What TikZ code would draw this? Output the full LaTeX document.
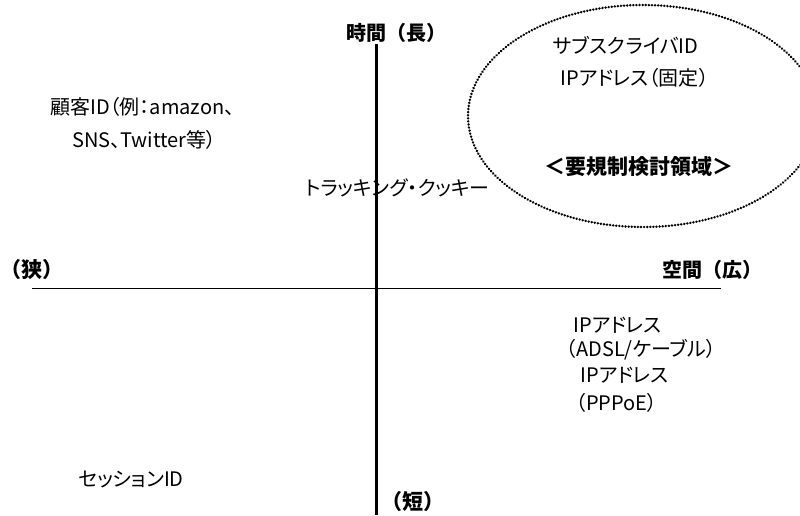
\documentclass[tikz,border=0pt]{standalone}
\usepackage{fontspec}
\setmainfont{Noto Sans CJK JP}
\newfontfamily\propjp[RawFeature=+palt]{Noto Sans CJK JP}
\begin{document}
\begin{tikzpicture}[x=1pt,y=-1pt,
  lbl/.style={anchor=west,inner sep=0pt,font=\propjp\fontsize{20}{22}\selectfont},
  axlbl/.style={anchor=west,inner sep=0pt,font=\fontsize{20}{22}\selectfont\bfseries}]
\useasboundingbox (0,0) rectangle (800,515);
% axes
\coordinate (vt) at (376,44);
\coordinate (vb) at (376,515);
\coordinate (hl) at (32,288);
\coordinate (hr) at (721,288);
\draw[line width=1pt] (hl) -- (hr);
\draw[line width=3pt] (vt) -- (vb);
% ellipse
\draw[line width=2.6pt, line cap=round, dash pattern=on 0.1pt off 3pt] (643,116) ellipse [x radius=175, y radius=111];
% axis labels
\node[axlbl] (tlong) at (346,33) {時間（長）};
\node[axlbl,font=\fontsize{21}{23}\selectfont\bfseries] (narrow) at (0,270) {（狭）};
\node[axlbl] (wide) at (662,270) {空間（広）};
\node[axlbl,font=\fontsize{21}{23}\selectfont\bfseries] (short) at (381,502) {（短）};
% items
\node[lbl] (sub) at (553,45) {サブスクライバID};
\node[lbl] (ipf) at (560,78) {IPアドレス（固定）};
\node[axlbl,font=\fontsize{21}{23}\selectfont\bfseries] (reg) at (544,167) {＜要規制検討領域＞};
\node[lbl] (cust1) at (50,107) {顧客ID（例：amazon、};
\node[lbl] (cust2) at (72,140) {SNS、Twitter等）};
\node[lbl] (track) at (305,188) {トラッキング・クッキー};
\node[lbl] (ip1) at (573,325) {IPアドレス};
\node[lbl] (ip1b) at (566,350) {（ADSL/ケーブル）};
\node[lbl] (ip2) at (580,375) {IPアドレス};
\node[lbl] (ip2b) at (576,403) {（PPPoE）};
\node[lbl] (sess) at (78,480) {セッションID};
\end{tikzpicture}
\end{document}
